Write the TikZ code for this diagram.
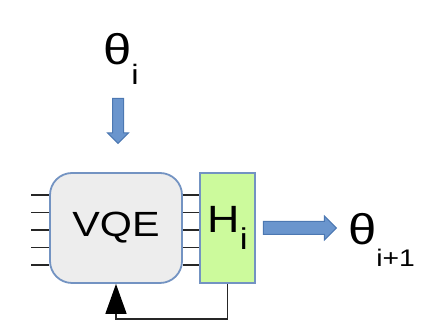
\documentclass[tikz,border=0pt]{standalone}
\usepackage{fontspec}
\setmainfont{Liberation Sans}[FakeStretch=1.18]
\usepackage{tikz}
\usetikzlibrary{arrows.meta, positioning, shapes.arrows}
\definecolor{boxline}{HTML}{7393C2}
\definecolor{boxgray}{HTML}{EDEDED}
\definecolor{hgreen}{HTML}{CCFA9C}
\definecolor{arrowblue}{HTML}{6A95CD}
\definecolor{arrowline}{HTML}{4C78B2}
\definecolor{wire}{HTML}{262626}

\begin{document}
\begin{tikzpicture}[x=1pt, y=1pt,
    circbox/.style={draw=boxline, line width=1.8pt, fill=boxgray, rounded corners=22pt,
      minimum width=132pt, minimum height=110pt, inner sep=0pt},
    hambox/.style={draw=boxline, line width=1.8pt, fill=hgreen,
      minimum width=55pt, minimum height=110pt, inner sep=0pt},
    blockarrow/.style={single arrow, draw=arrowline, fill=arrowblue, line width=1pt,
      inner sep=0pt},
    qubit/.style={draw=wire, line width=1.6pt},
    feedback/.style={draw=wire, line width=1.6pt, -{Triangle[length=30pt, width=21pt, color=black]}}]
			% Paths, nodes and wires:
			\useasboundingbox (0, 0) rectangle (448, 323);
			\node[circbox] (vqe) at (116, 95) {\fontsize{35}{35}\selectfont VQE};
			\node[hambox] (ham) at (227.5, 95) {\fontsize{38}{38}\selectfont H\raisebox{-17pt}{\fontsize{30}{30}\selectfont i}};
			\node[anchor=base west, inner sep=0pt] (theta) at (103, 258) {\fontsize{43}{43}\selectfont θ\raisebox{-20pt}{\fontsize{28}{28}\selectfont i}};
			\node[blockarrow, shape border rotate=270, minimum height=45pt, text width=10pt, text height=0pt, text depth=0pt,
				single arrow head extend=5pt, above=28pt of vqe, xshift=2pt] (down) {};
			\node[blockarrow, minimum height=73pt, text width=0pt, text height=6pt, text depth=6pt,
				single arrow head extend=5.5pt, right=7pt of ham] (out) {};
			\node[anchor=base west, inner sep=0pt] (next) at (348, 78) {\fontsize{43}{43}\selectfont θ\raisebox{-22pt}{\fontsize{24}{24}\selectfont i+1}};
			\foreach \dy in {33, 15.5, -2, -19.5, -37} {
				\draw[qubit] ([yshift=\dy]vqe.west) -- ++(-18, 0);
				\draw[qubit] ([yshift=\dy]vqe.east) -- ([yshift=\dy]ham.west);
			}
			\draw[feedback] (ham.south) -- ++(0, -35) -| (vqe.south);
		\end{tikzpicture}
\end{document}
